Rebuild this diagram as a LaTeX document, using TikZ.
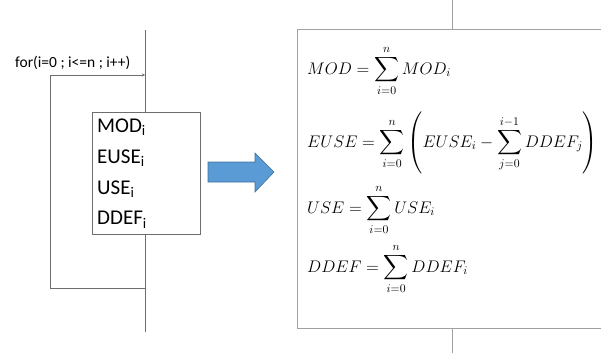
\documentclass[tikz,border=0pt]{standalone}
\usepackage{fix-cm}
\usepackage{fontspec}
\setmainfont{Carlito}
\usepackage{amsmath}
\usetikzlibrary{arrows.meta}
\definecolor{linegray}{HTML}{6E6E6E}
\definecolor{boxgray}{HTML}{A0A0A0}
\definecolor{arrowfill}{HTML}{5B9BD5}
\definecolor{arrowedge}{HTML}{41719C}
\begin{document}
\begin{tikzpicture}[x=1pt,y=-1pt,
  thinline/.style={draw=linegray,line width=0.7pt},
  framebox/.style={draw=boxgray,line width=1pt},
  eqn/.style={anchor=base west,inner sep=0pt,font=\fontsize{16.8}{19}\selectfont},
  vars/.style={draw=linegray,line width=0.7pt,fill=white,anchor=north west,
    minimum width=108pt,minimum height=122pt,inner sep=0pt}]
\useasboundingbox (0,0) rectangle (601,353);
% left flow
\coordinate (vtop) at (145,30);
\coordinate (vbot) at (145,332);
\coordinate (loopin) at (145,75);
\coordinate (loopout) at (145,288);
\coordinate (loopbl) at (50,288);
\coordinate (looptl) at (50,75);
\draw[thinline] (vtop) -- (vbot);
\draw[thinline,-{Stealth[length=3pt,width=3pt]}] (loopout) -- (loopbl) -- (looptl) -- (loopin);
\node[anchor=base west,inner sep=0pt,font=\fontsize{15.5}{18}\selectfont] (fortext) at (15,67) {for(i=0 ; i<=n ; i++)};
\node[vars] (box) at (92,112) {};
\node[anchor=north west,inner sep=0pt,align=left,font=\fontsize{21}{30.7}\selectfont] (vlist) at (97,119)
  {MOD\textsubscript{i}\\EUSE\textsubscript{i}\\USE\textsubscript{i}\\DDEF\textsubscript{i}};
% block arrow
\draw[draw=arrowedge,fill=arrowfill,line width=0.6pt]
  (208,162) -- (255,162) -- (255,153) -- (274,172) -- (255,192) -- (255,182) -- (208,182) -- cycle;
% right frame
\coordinate (rvtop) at (452,0);
\coordinate (rvt) at (452,30);
\coordinate (rvb) at (452,328);
\coordinate (rvbot) at (452,353);
\draw[framebox] (601,30) -- (297,30) -- (297,328) -- (601,328);
\draw[framebox] (rvtop) -- (rvt);
\draw[framebox] (rvb) -- (rvbot);
\node[eqn] (e1) at (307,74) {$\displaystyle MOD=\sum_{i=0}^{n}MOD_i$};
\node[eqn] (e2) at (307,147) {$\displaystyle EUSE=\sum_{i=0}^{n}\left(EUSE_i-\sum_{j=0}^{i-1}DDEF_j\right)$};
\node[eqn] (e3) at (307,213) {$\displaystyle USE=\sum_{i=0}^{n}USE_i$};
\node[eqn] (e4) at (307,272) {$\displaystyle DDEF=\sum_{i=0}^{n}DDEF_i$};
\end{tikzpicture}
\end{document}
